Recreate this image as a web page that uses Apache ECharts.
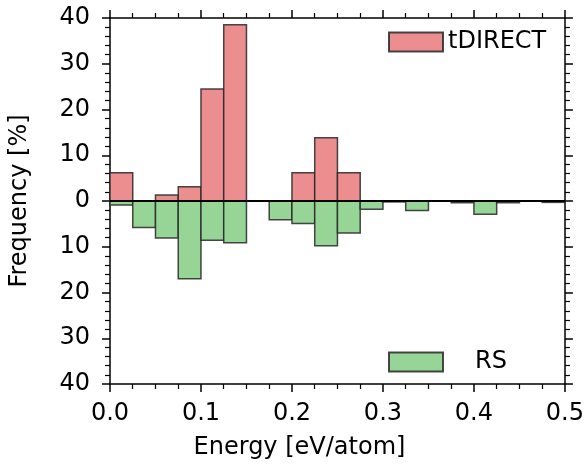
<!DOCTYPE html>
<html>
<head>
<meta charset="utf-8">
<script src="https://cdn.jsdelivr.net/npm/echarts@6/dist/echarts.min.js"></script>
<style>
  html, body { margin: 0; padding: 0; background: #fff; }
  #chart { width: 587px; height: 472px; }
</style>
</head>
<body>
<div id="chart"></div>
<script>
// histogram bins (eV/atom), width 0.025
const binStart = [0, 0.025, 0.05, 0.075, 0.1, 0.125, 0.15, 0.175, 0.2, 0.225,
                  0.25, 0.275, 0.3, 0.325, 0.35, 0.375, 0.4, 0.425, 0.45, 0.475];
const binWidth = 0.025;
// frequency in %
const tdirect = [6.2, 0, 1.3, 3.1, 24.5, 38.5, 0, 0, 6.2, 13.8,
                 6.2, 0, 0, 0, 0, 0, 0, 0, 0, 0];
const rs = [0.9, 5.8, 8.1, 17, 8.6, 9.1, 0, 4.1, 4.9, 9.8,
            7.0, 1.8, 0.2, 2.1, 0, 0.4, 2.9, 0.4, 0, 0.3];
const yTicks = [-40, -30, -20, -10, 0, 10, 20, 30, 40];

const font = 'DejaVu Sans';
const fs = 24;
const chart = echarts.init(document.getElementById('chart'));

// bars from bin edge to bin edge, drawn via the axis coords
function histItem(params, api) {
  const x0 = api.value(0);
  const v = api.value(1);
  const p0 = api.coord([x0, 0]);
  const p1 = api.coord([x0 + binWidth, v]);
  return {
    type: 'rect',
    shape: {
      x: p0[0], y: Math.min(p0[1], p1[1]),
      width: p1[0] - p0[0], height: Math.abs(p1[1] - p0[1])
    },
    style: api.style()
  };
}

function axisStyle(split) {
  return {
    axisLine: { onZero: false, lineStyle: { color: '#000', width: 1.5 } },
    axisTick: { inside: false, length: 8, lineStyle: { color: '#000', width: 1.5 } },
    minorTick: { show: true, splitNumber: split, length: 5, lineStyle: { color: '#000', width: 1.2 } },
    splitLine: { show: false },
    minorSplitLine: { show: false }
  };
}

const option = {
  animation: false,
  backgroundColor: '#fff',
  grid: { left: 107, right: 20, top: 18, bottom: 88 },
  legend: [
    {
      data: ['tDIRECT'], left: 383, top: 25, icon: 'rect',
      itemWidth: 54, itemHeight: 19, itemGap: 0,
      textStyle: { fontFamily: font, fontSize: fs, color: '#000', padding: [0, 0, 0, 0] }
    },
    {
      data: ['RS'], left: 383, top: 345, icon: 'rect',
      itemWidth: 54, itemHeight: 19,
      textStyle: { fontFamily: font, fontSize: fs, color: '#000', padding: [0, 0, 0, 27] }
    }
  ],
  xAxis: [
    Object.assign({
      type: 'value', min: 0, max: 0.5, interval: 0.1,
      name: 'Energy [eV/atom]', nameLocation: 'middle', nameGap: 52,
      nameTextStyle: { fontFamily: font, fontSize: fs, color: '#000', padding: [0, 76, 0, 0] },
      axisLabel: {
        fontFamily: font, fontSize: fs, color: '#000', margin: 18,
        formatter: v => v.toFixed(1)
      }
    }, axisStyle(4)),
    Object.assign({
      type: 'value', min: 0, max: 0.5, interval: 0.1, position: 'top',
      axisLabel: { show: false }
    }, axisStyle(4))
  ],
  yAxis: [
    Object.assign({
      type: 'value', min: -40, max: 40, interval: 10,
      name: 'Frequency [%]', nameLocation: 'middle', nameGap: 78,
      nameTextStyle: { fontFamily: font, fontSize: fs, color: '#000' },
      axisLabel: {
        fontFamily: font, fontSize: fs, color: '#000', margin: 20,
        formatter: v => yTicks.includes(v) ? String(Math.abs(v)) : ''
      }
    }, axisStyle(5)),
    Object.assign({
      type: 'value', min: -40, max: 40, interval: 10, position: 'right',
      axisLabel: { show: false }
    }, axisStyle(5))
  ],
  series: [
    {
      name: 'tDIRECT', type: 'custom', renderItem: histItem,
      itemStyle: { color: '#ec8e90', borderColor: 'rgba(40,40,40,0.85)', borderWidth: 1.5 },
      data: binStart.map((x, i) => [x, tdirect[i]]).filter(d => d[1] > 0),
      encode: { x: 0, y: 1 }
    },
    {
      name: 'RS', type: 'custom', renderItem: histItem,
      itemStyle: { color: '#96d596', borderColor: 'rgba(40,40,40,0.85)', borderWidth: 1.5 },
      data: binStart.map((x, i) => [x, -rs[i]]).filter(d => d[1] < 0),
      encode: { x: 0, y: 1 },
      markLine: {
        silent: true, symbol: 'none', label: { show: false },
        lineStyle: { color: '#000', width: 2, type: 'solid' },
        data: [{ yAxis: 0 }]
      }
    }
  ]
};

chart.setOption(option);
</script>
</body>
</html>
